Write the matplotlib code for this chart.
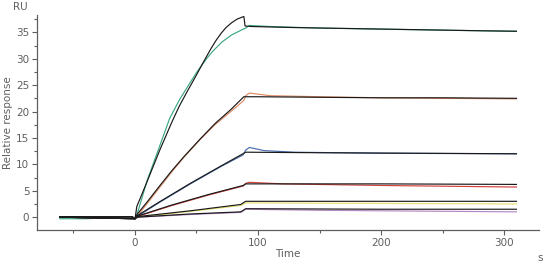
import numpy as np
import matplotlib
matplotlib.use("Agg")
import matplotlib.pyplot as plt
from matplotlib.ticker import MultipleLocator

# Sensorgram: measured curves (colour) and fits (black)
# Curve 1 (highest concentration)
t1_fit = [-61, -2, 0, 1.5, 4, 10, 20, 30, 36, 42, 49, 55.5, 62, 66, 70, 74, 78.5, 83, 88.5, 89.5, 95, 130, 180, 230, 280, 310]
v1_fit = [0.1, 0.1, -0.4, 2.0, 3.4, 6.8, 12.6, 18.0, 21.0, 23.6, 26.5, 29.3, 32.0, 33.5, 34.8, 35.9, 36.8, 37.5, 38.0, 36.2, 36.1, 35.9, 35.7, 35.5, 35.3, 35.2]
t1 = [-61, -40, -20, -2, 0, 1, 3, 10, 20, 28.4, 36.6, 43.3, 50.1, 58.2, 63.6, 70.4, 78.5, 88, 90, 93, 110, 150, 200, 250, 310]
v1 = [-0.3, -0.3, -0.1, 0, -0.2, 0.2, 1.5, 7.0, 13.4, 18.8, 22.4, 24.9, 27.4, 30.0, 31.5, 33.1, 34.5, 35.6, 35.8, 36.3, 36.1, 35.8, 35.6, 35.4, 35.2]

# Curve 2
t2_fit = [-61, -2, 0, 2, 10, 20, 30, 40, 53, 65, 78.5, 88.5, 90, 100, 150, 200, 250, 310]
v2_fit = [0, 0, -0.3, 0.6, 2.9, 5.9, 8.8, 11.5, 14.8, 17.7, 20.5, 22.8, 22.8, 22.8, 22.7, 22.6, 22.6, 22.5]
t2 = [-61, -2, 0, 3, 10, 20, 30, 40, 53, 65, 78.5, 88.5, 90, 93, 110, 150, 200, 250, 310]
v2 = [0, 0, -0.2, 0.5, 2.6, 5.6, 8.6, 11.4, 14.7, 17.5, 20.1, 22.1, 23.0, 23.5, 23.0, 22.8, 22.6, 22.5, 22.4]

# Curve 3
t3_fit = [-61, 0, 2, 20, 45, 70, 88.5, 90, 150, 230, 310]
v3_fit = [0, -0.3, 0.3, 2.9, 6.4, 9.7, 12.1, 12.3, 12.2, 12.1, 12.0]
t3 = [-61, 0, 3, 20, 45, 70, 88, 90, 93, 105, 130, 200, 310]
v3 = [0, -0.2, 0.3, 2.8, 6.3, 9.6, 11.8, 12.7, 13.2, 12.6, 12.3, 12.1, 12.0]

# Curve 4
t4_fit = [-61, 0, 2, 30, 60, 88, 90, 95, 200, 310]
v4_fit = [0, -0.3, 0.2, 2.3, 4.3, 6.0, 6.3, 6.3, 6.3, 6.2]
t4 = [-61, 0, 3, 30, 60, 88, 90, 93, 120, 200, 310]
v4 = [0, -0.2, 0.2, 2.2, 4.2, 5.9, 6.4, 6.6, 6.3, 6.0, 5.7]

# Curve 5
t5_fit = [-61, 0, 2, 45, 86, 90, 200, 310]
v5_fit = [0, -0.3, 0.1, 1.2, 2.4, 3.0, 3.0, 3.0]
t5 = [-61, 0, 3, 45, 86, 90, 200, 310]
v5 = [0, -0.2, 0.0, 1.1, 2.2, 2.7, 2.6, 2.5]

# Curve 6 (lowest concentration)
t6_fit = [-61, 0, 2, 45, 86, 90, 200, 310]
v6_fit = [0, -0.3, 0.0, 0.6, 1.0, 1.6, 1.5, 1.5]
t6 = [-61, 0, 3, 45, 86, 90, 150, 310]
v6 = [0, -0.2, 0.0, 0.5, 0.9, 1.5, 1.3, 1.0]

colors = ['#3aa882', '#e08a62', '#4a6db0', '#d2423f', '#e6df72', '#b488c4']
data = [(t1, v1), (t2, v2), (t3, v3), (t4, v4), (t5, v5), (t6, v6)]
fits = [(t1_fit, v1_fit), (t2_fit, v2_fit), (t3_fit, v3_fit),
        (t4_fit, v4_fit), (t5_fit, v5_fit), (t6_fit, v6_fit)]

axc = '#5f5f5f'
fig = plt.figure(figsize=(5.47, 2.66), dpi=100)
ax = fig.add_axes([0.0676, 0.135, 0.917, 0.809])

for (t, v), c in zip(data, colors):
    ax.plot(t, v, color=c, lw=0.85)
for t, v in fits:
    ax.plot(t, v, color='#1a1a1a', lw=0.85)

ax.set_xlim(-79.6, 328)
ax.set_ylim(-2.45, 38.3)
ax.spines['top'].set_visible(False)
ax.spines['right'].set_visible(False)
for s in ['left', 'bottom']:
    ax.spines[s].set_color(axc)
    ax.spines[s].set_linewidth(0.9)

ax.xaxis.set_major_locator(MultipleLocator(100))
ax.xaxis.set_minor_locator(MultipleLocator(50))
ax.yaxis.set_major_locator(MultipleLocator(5))
ax.yaxis.set_minor_locator(MultipleLocator(2.5))
ax.tick_params(which='major', length=3.5, width=0.8, color=axc, labelcolor=axc, labelsize=7.5, pad=2)
ax.tick_params(which='minor', length=2, width=0.8, color=axc)

ax.set_xlabel('Time', fontsize=7.5, color=axc, labelpad=1)
ax.set_ylabel('Relative response', fontsize=7.5, color=axc, labelpad=2)
fig.text(13 / 547, 1 - 7 / 266, 'RU', fontsize=7.5, color=axc, ha='left', va='center')
fig.text(540 / 547, 1 - 258 / 266, 's', fontsize=7.5, color=axc, ha='center', va='center')

fig.savefig('out.png', dpi=100)
